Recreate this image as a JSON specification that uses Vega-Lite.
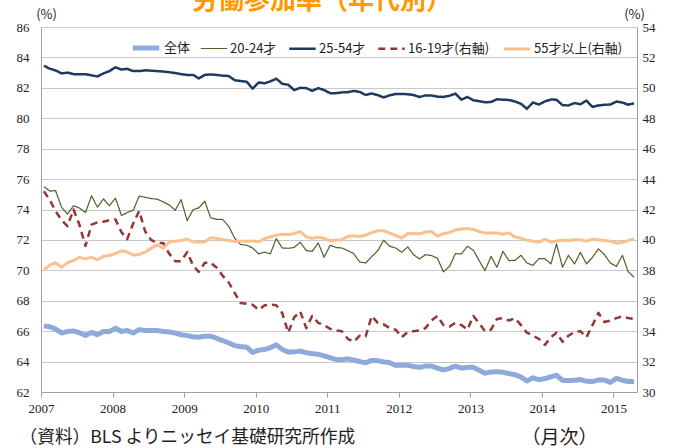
{
  "$schema": "https://vega.github.io/schema/vega-lite/v6.json",
  "width": 596,
  "height": 365,
  "autosize": {"type": "none"},
  "padding": {"left": 41, "top": 27, "right": 38, "bottom": 56},
  "background": "white",
  "title": {
    "text": "労働参加率（年代別）",
    "font": "Noto Sans CJK JP",
    "fontSize": 26,
    "fontWeight": "bold",
    "color": "#ff9900",
    "anchor": "middle",
    "baseline": "alphabetic",
    "offset": -27,
    "dx": -17
  },
  "data": {
    "values": [
      {"date": "2007-01-16", "全体": 66.35, "20-24才": 75.5, "25-54才": 83.45, "16-19才(右軸)": 43.2, "55才以上(右軸)": 38.05},
      {"date": "2007-02-16", "全体": 66.28, "20-24才": 75.2, "25-54才": 83.25, "16-19才(右軸)": 42.6, "55才以上(右軸)": 38.35},
      {"date": "2007-03-16", "全体": 66.15, "20-24才": 75.25, "25-54才": 83.15, "16-19才(右軸)": 41.9, "55才以上(右軸)": 38.5},
      {"date": "2007-04-16", "全体": 65.88, "20-24才": 74.15, "25-54才": 82.95, "16-19才(右軸)": 41.3, "55才以上(右軸)": 38.2},
      {"date": "2007-05-16", "全体": 65.98, "20-24才": 73.7, "25-54才": 83.0, "16-19才(右軸)": 40.9, "55才以上(右軸)": 38.5},
      {"date": "2007-06-16", "全体": 66.01, "20-24才": 74.25, "25-54才": 82.9, "16-19才(右軸)": 42.0, "55才以上(右軸)": 38.65},
      {"date": "2007-07-16", "全体": 65.9, "20-24才": 74.1, "25-54才": 82.9, "16-19才(右軸)": 41.0, "55才以上(右軸)": 38.86},
      {"date": "2007-08-16", "全体": 65.72, "20-24才": 73.8, "25-54才": 82.9, "16-19才(右軸)": 39.6, "55才以上(右軸)": 38.75},
      {"date": "2007-09-16", "全体": 65.92, "20-24才": 74.9, "25-54才": 82.82, "16-19才(右軸)": 41.0, "55才以上(右軸)": 38.86},
      {"date": "2007-10-16", "全体": 65.77, "20-24才": 74.15, "25-54才": 82.75, "16-19才(右軸)": 41.15, "55才以上(右軸)": 38.7},
      {"date": "2007-11-16", "全体": 65.98, "20-24才": 74.7, "25-54才": 82.95, "16-19才(右軸)": 41.2, "55才以上(右軸)": 38.92},
      {"date": "2007-12-16", "全体": 65.98, "20-24才": 74.25, "25-54才": 83.1, "16-19才(右軸)": 41.3, "55才以上(右軸)": 38.98},
      {"date": "2008-01-16", "全体": 66.2, "20-24才": 74.75, "25-54才": 83.35, "16-19才(右軸)": 41.35, "55才以上(右軸)": 39.1},
      {"date": "2008-02-16", "全体": 65.98, "20-24才": 73.6, "25-54才": 83.2, "16-19才(右軸)": 40.5, "55才以上(右軸)": 39.28},
      {"date": "2008-03-16", "全体": 66.04, "20-24才": 73.8, "25-54才": 83.25, "16-19才(右軸)": 40.05, "55才以上(右軸)": 39.2},
      {"date": "2008-04-16", "全体": 65.88, "20-24才": 73.95, "25-54才": 83.1, "16-19才(右軸)": 41.1, "55才以上(右軸)": 39.0},
      {"date": "2008-05-16", "全体": 66.1, "20-24才": 74.88, "25-54才": 83.1, "16-19才(右軸)": 41.9, "55才以上(右軸)": 39.05},
      {"date": "2008-06-16", "全体": 66.05, "20-24才": 74.8, "25-54才": 83.15, "16-19才(右軸)": 40.55, "55才以上(右軸)": 39.2},
      {"date": "2008-07-16", "全体": 66.04, "20-24才": 74.72, "25-54才": 83.13, "16-19才(右軸)": 40.0, "55才以上(右軸)": 39.45},
      {"date": "2008-08-16", "全体": 66.04, "20-24才": 74.68, "25-54才": 83.1, "16-19才(右軸)": 39.8, "55才以上(右軸)": 39.68},
      {"date": "2008-09-16", "全体": 65.98, "20-24才": 74.5, "25-54才": 83.07, "16-19才(右軸)": 39.8, "55才以上(右軸)": 39.46},
      {"date": "2008-10-16", "全体": 65.95, "20-24才": 74.3, "25-54才": 83.03, "16-19才(右軸)": 39.1, "55才以上(右軸)": 39.85},
      {"date": "2008-11-16", "全体": 65.88, "20-24才": 73.95, "25-54才": 82.97, "16-19才(右軸)": 38.6, "55才以上(右軸)": 39.92},
      {"date": "2008-12-16", "全体": 65.76, "20-24才": 74.65, "25-54才": 82.9, "16-19才(右軸)": 38.6, "55才以上(右軸)": 39.96},
      {"date": "2009-01-16", "全体": 65.71, "20-24才": 73.27, "25-54才": 82.85, "16-19才(右軸)": 39.2, "55才以上(右軸)": 40.05},
      {"date": "2009-02-16", "全体": 65.63, "20-24才": 74.0, "25-54才": 82.85, "16-19才(右軸)": 38.3, "55才以上(右軸)": 39.87},
      {"date": "2009-03-16", "全体": 65.6, "20-24才": 74.1, "25-54才": 82.62, "16-19才(右軸)": 37.9, "55才以上(右軸)": 39.85},
      {"date": "2009-04-16", "全体": 65.67, "20-24才": 74.55, "25-54才": 82.85, "16-19才(右軸)": 38.5, "55才以上(右軸)": 39.87},
      {"date": "2009-05-16", "全体": 65.67, "20-24才": 73.45, "25-54才": 82.88, "16-19才(右軸)": 38.5, "55才以上(右軸)": 40.15},
      {"date": "2009-06-16", "全体": 65.53, "20-24才": 73.35, "25-54才": 82.85, "16-19才(右軸)": 38.17, "55才以上(右軸)": 40.1},
      {"date": "2009-07-16", "全体": 65.38, "20-24才": 73.35, "25-54才": 82.8, "16-19才(右軸)": 37.65, "55才以上(右軸)": 40.02},
      {"date": "2009-08-16", "全体": 65.23, "20-24才": 72.9, "25-54才": 82.78, "16-19才(右軸)": 37.2, "55才以上(右軸)": 39.96},
      {"date": "2009-09-16", "全体": 65.05, "20-24才": 72.1, "25-54才": 82.5, "16-19才(右軸)": 36.5, "55才以上(右軸)": 39.9},
      {"date": "2009-10-16", "全体": 64.98, "20-24才": 71.7, "25-54才": 82.45, "16-19才(右軸)": 35.85, "55才以上(右軸)": 39.93},
      {"date": "2009-11-16", "全体": 64.95, "20-24才": 71.65, "25-54才": 82.4, "16-19才(右軸)": 35.8, "55才以上(右軸)": 39.9},
      {"date": "2009-12-16", "全体": 64.6, "20-24才": 71.47, "25-54才": 81.95, "16-19才(右軸)": 35.74, "55才以上(右軸)": 39.93},
      {"date": "2010-01-16", "全体": 64.75, "20-24才": 71.08, "25-54才": 82.35, "16-19才(右軸)": 35.4, "55才以上(右軸)": 39.88},
      {"date": "2010-02-16", "全体": 64.8, "20-24才": 71.2, "25-54才": 82.3, "16-19才(右軸)": 35.7, "55才以上(右軸)": 40.08},
      {"date": "2010-03-16", "全体": 64.91, "20-24才": 71.08, "25-54才": 82.42, "16-19才(右軸)": 35.75, "55才以上(右軸)": 40.2},
      {"date": "2010-04-16", "全体": 65.1, "20-24才": 72.09, "25-54才": 82.6, "16-19才(右軸)": 35.7, "55才以上(右軸)": 40.3},
      {"date": "2010-05-16", "全体": 64.8, "20-24才": 71.47, "25-54才": 82.27, "16-19才(右軸)": 35.2, "55才以上(右軸)": 40.38},
      {"date": "2010-06-16", "全体": 64.63, "20-24才": 71.45, "25-54才": 82.2, "16-19才(右軸)": 33.9, "55才以上(右軸)": 40.35},
      {"date": "2010-07-16", "全体": 64.64, "20-24才": 71.5, "25-54才": 81.85, "16-19才(右軸)": 34.9, "55才以上(右軸)": 40.42},
      {"date": "2010-08-16", "全体": 64.69, "20-24才": 71.85, "25-54才": 82.0, "16-19才(右軸)": 35.3, "55才以上(右軸)": 40.55},
      {"date": "2010-09-16", "全体": 64.58, "20-24才": 71.3, "25-54才": 81.98, "16-19才(右軸)": 34.2, "55才以上(右軸)": 40.2},
      {"date": "2010-10-16", "全体": 64.52, "20-24才": 71.25, "25-54才": 81.8, "16-19才(右軸)": 35.0, "55才以上(右軸)": 40.1},
      {"date": "2010-11-16", "全体": 64.48, "20-24才": 71.8, "25-54才": 81.98, "16-19才(右軸)": 34.55, "55才以上(右軸)": 40.18},
      {"date": "2010-12-16", "全体": 64.38, "20-24才": 70.86, "25-54才": 81.85, "16-19才(右軸)": 34.4, "55才以上(右軸)": 40.1},
      {"date": "2011-01-16", "全体": 64.25, "20-24才": 71.65, "25-54才": 81.65, "16-19才(右軸)": 34.15, "55才以上(右軸)": 39.95},
      {"date": "2011-02-16", "全体": 64.14, "20-24才": 71.5, "25-54才": 81.65, "16-19才(右軸)": 34.05, "55才以上(右軸)": 40.0},
      {"date": "2011-03-16", "全体": 64.12, "20-24才": 71.47, "25-54才": 81.7, "16-19才(右軸)": 34.0, "55才以上(右軸)": 40.0},
      {"date": "2011-04-16", "全体": 64.18, "20-24才": 71.3, "25-54才": 81.71, "16-19才(右軸)": 33.5, "55才以上(右軸)": 40.24},
      {"date": "2011-05-16", "全体": 64.1, "20-24才": 71.1, "25-54才": 81.8, "16-19才(右軸)": 33.3, "55才以上(右軸)": 40.26},
      {"date": "2011-06-16", "全体": 64.0, "20-24才": 70.55, "25-54才": 81.73, "16-19才(右軸)": 33.7, "55才以上(右軸)": 40.22},
      {"date": "2011-07-16", "全体": 63.92, "20-24才": 70.48, "25-54才": 81.53, "16-19才(右軸)": 33.65, "55才以上(右軸)": 40.32},
      {"date": "2011-08-16", "全体": 64.08, "20-24才": 70.9, "25-54才": 81.63, "16-19才(右軸)": 35.0, "55才以上(右軸)": 40.48},
      {"date": "2011-09-16", "全体": 64.06, "20-24才": 71.3, "25-54才": 81.52, "16-19才(右軸)": 34.55, "55才以上(右軸)": 40.6},
      {"date": "2011-10-16", "全体": 63.98, "20-24才": 71.98, "25-54才": 81.37, "16-19才(右軸)": 34.45, "55才以上(右軸)": 40.6},
      {"date": "2011-11-16", "全体": 63.93, "20-24才": 71.58, "25-54才": 81.51, "16-19才(右軸)": 34.2, "55才以上(右軸)": 40.45},
      {"date": "2011-12-16", "全体": 63.75, "20-24才": 71.47, "25-54才": 81.6, "16-19才(右軸)": 34.1, "55才以上(右軸)": 40.3},
      {"date": "2012-01-16", "全体": 63.76, "20-24才": 71.19, "25-54才": 81.6, "16-19才(右軸)": 33.6, "55才以上(右軸)": 40.12},
      {"date": "2012-02-16", "全体": 63.75, "20-24才": 71.54, "25-54才": 81.58, "16-19才(右軸)": 33.95, "55才以上(右軸)": 40.42},
      {"date": "2012-03-16", "全体": 63.68, "20-24才": 71.03, "25-54才": 81.53, "16-19才(右軸)": 34.0, "55才以上(右軸)": 40.42},
      {"date": "2012-04-16", "全体": 63.62, "20-24才": 70.75, "25-54才": 81.4, "16-19才(右軸)": 34.05, "55才以上(右軸)": 40.4},
      {"date": "2012-05-16", "全体": 63.71, "20-24才": 71.03, "25-54才": 81.5, "16-19才(右軸)": 34.2, "55才以上(右軸)": 40.52},
      {"date": "2012-06-16", "全体": 63.71, "20-24才": 70.97, "25-54才": 81.5, "16-19才(右軸)": 34.7, "55才以上(右軸)": 40.55},
      {"date": "2012-07-16", "全体": 63.57, "20-24才": 70.8, "25-54才": 81.42, "16-19才(右軸)": 35.0, "55才以上(右軸)": 40.25},
      {"date": "2012-08-16", "全体": 63.45, "20-24才": 69.9, "25-54才": 81.4, "16-19才(右軸)": 34.4, "55才以上(右軸)": 40.42},
      {"date": "2012-09-16", "全体": 63.55, "20-24才": 70.26, "25-54才": 81.48, "16-19才(右軸)": 34.3, "55才以上(右軸)": 40.48},
      {"date": "2012-10-16", "全体": 63.7, "20-24才": 71.1, "25-54才": 81.62, "16-19才(右軸)": 34.55, "55才以上(右軸)": 40.65},
      {"date": "2012-11-16", "全体": 63.57, "20-24才": 71.08, "25-54才": 81.22, "16-19才(右軸)": 34.4, "55才以上(右軸)": 40.72},
      {"date": "2012-12-16", "全体": 63.62, "20-24才": 71.58, "25-54才": 81.4, "16-19才(右軸)": 34.1, "55才以上(右軸)": 40.75},
      {"date": "2013-01-16", "全体": 63.62, "20-24才": 71.32, "25-54才": 81.18, "16-19才(右軸)": 35.0, "55才以上(右軸)": 40.68},
      {"date": "2013-02-16", "全体": 63.42, "20-24才": 70.6, "25-54才": 81.12, "16-19才(右軸)": 34.5, "55才以上(右軸)": 40.55},
      {"date": "2013-03-16", "全体": 63.24, "20-24才": 69.98, "25-54才": 81.05, "16-19才(右軸)": 34.0, "55才以上(右軸)": 40.45},
      {"date": "2013-04-16", "全体": 63.31, "20-24才": 70.92, "25-54才": 81.07, "16-19才(右軸)": 34.1, "55才以上(右軸)": 40.45},
      {"date": "2013-05-16", "全体": 63.34, "20-24才": 70.2, "25-54才": 81.25, "16-19才(右軸)": 34.8, "55才以上(右軸)": 40.46},
      {"date": "2013-06-16", "全体": 63.3, "20-24才": 71.25, "25-54才": 81.22, "16-19才(右軸)": 34.86, "55才以上(右軸)": 40.37},
      {"date": "2013-07-16", "全体": 63.21, "20-24才": 70.64, "25-54才": 81.2, "16-19才(右軸)": 34.7, "55才以上(右軸)": 40.46},
      {"date": "2013-08-16", "全体": 63.14, "20-24才": 70.66, "25-54才": 81.1, "16-19才(右軸)": 34.85, "55才以上(右軸)": 40.2},
      {"date": "2013-09-16", "全体": 62.98, "20-24才": 70.99, "25-54才": 80.95, "16-19才(右軸)": 34.4, "55才以上(右軸)": 40.1},
      {"date": "2013-10-16", "全体": 62.73, "20-24才": 70.48, "25-54才": 80.62, "16-19才(右軸)": 33.9, "55才以上(右軸)": 39.98},
      {"date": "2013-11-16", "全体": 62.93, "20-24才": 70.33, "25-54才": 81.04, "16-19才(右軸)": 33.7, "55才以上(右軸)": 39.92},
      {"date": "2013-12-16", "全体": 62.81, "20-24才": 70.77, "25-54才": 80.9, "16-19才(右軸)": 33.5, "55才以上(右軸)": 39.85},
      {"date": "2014-01-16", "全体": 62.88, "20-24才": 70.77, "25-54才": 81.11, "16-19才(右軸)": 33.1, "55才以上(右軸)": 40.05},
      {"date": "2014-02-16", "全体": 63.0, "20-24才": 70.42, "25-54才": 81.23, "16-19才(右軸)": 33.6, "55才以上(右軸)": 39.85},
      {"date": "2014-03-16", "全体": 63.1, "20-24才": 71.74, "25-54才": 81.22, "16-19才(右軸)": 33.9, "55才以上(右軸)": 39.93},
      {"date": "2014-04-16", "全体": 62.77, "20-24才": 70.2, "25-54才": 80.86, "16-19才(右軸)": 33.3, "55才以上(右軸)": 39.98},
      {"date": "2014-05-16", "全体": 62.75, "20-24才": 70.99, "25-54才": 80.84, "16-19才(右軸)": 33.7, "55才以上(右軸)": 39.95},
      {"date": "2014-06-16", "全体": 62.77, "20-24才": 70.42, "25-54才": 81.0, "16-19才(右軸)": 33.95, "55才以上(右軸)": 40.02},
      {"date": "2014-07-16", "全体": 62.82, "20-24才": 71.19, "25-54才": 80.92, "16-19才(右軸)": 34.0, "55才以上(右軸)": 40.0},
      {"date": "2014-08-16", "全体": 62.71, "20-24才": 70.42, "25-54才": 81.16, "16-19才(右軸)": 33.6, "55才以上(右軸)": 39.92},
      {"date": "2014-09-16", "全体": 62.69, "20-24才": 70.86, "25-54才": 80.74, "16-19才(右軸)": 34.4, "55才以上(右軸)": 40.05},
      {"date": "2014-10-16", "全体": 62.79, "20-24才": 71.41, "25-54才": 80.84, "16-19才(右軸)": 35.2, "55才以上(右軸)": 40.0},
      {"date": "2014-11-16", "全体": 62.79, "20-24才": 71.03, "25-54才": 80.89, "16-19才(右軸)": 34.6, "55才以上(右軸)": 39.95},
      {"date": "2014-12-16", "全体": 62.63, "20-24才": 70.48, "25-54才": 80.9, "16-19才(右軸)": 34.7, "55才以上(右軸)": 39.92},
      {"date": "2015-01-16", "全体": 62.9, "20-24才": 70.26, "25-54才": 81.1, "16-19才(右軸)": 34.86, "55才以上(右軸)": 39.78},
      {"date": "2015-02-16", "全体": 62.77, "20-24才": 70.99, "25-54才": 81.03, "16-19才(右軸)": 34.97, "55才以上(右軸)": 39.85},
      {"date": "2015-03-16", "全体": 62.69, "20-24才": 69.93, "25-54才": 80.89, "16-19才(右軸)": 34.86, "55才以上(右軸)": 39.95},
      {"date": "2015-04-16", "全体": 62.68, "20-24才": 69.54, "25-54才": 80.98, "16-19才(右軸)": 34.8, "55才以上(右軸)": 40.08}
    ]
  },
  "layer": [
    {
      "transform": [{"fold": ["全体", "20-24才", "25-54才"], "as": ["series", "value"]}],
      "mark": {"type": "line", "strokeCap": "butt", "strokeJoin": "round"},
      "encoding": {
        "x": {
          "field": "date", "type": "temporal",
          "scale": {"type": "utc", "domain": [{"year": 2007, "month": 1, "date": 1, "utc": true}, {"year": 2015, "month": 5, "date": 1, "utc": true}]},
          "axis": {
            "orient": "bottom",
            "values": [{"year": 2007, "month": 1, "date": 1, "utc": true}, {"year": 2008, "month": 1, "date": 1, "utc": true}, {"year": 2009, "month": 1, "date": 1, "utc": true}, {"year": 2010, "month": 1, "date": 1, "utc": true}, {"year": 2011, "month": 1, "date": 1, "utc": true}, {"year": 2012, "month": 1, "date": 1, "utc": true}, {"year": 2013, "month": 1, "date": 1, "utc": true}, {"year": 2014, "month": 1, "date": 1, "utc": true}, {"year": 2015, "month": 1, "date": 1, "utc": true}],
            "format": "%Y", "formatType": "utc",
            "grid": false, "tickSize": 5, "labelPadding": 5, "labelFlush": false,
            "title": "（資料）BLS よりニッセイ基礎研究所作成",
            "titleX": -22, "titleY": 45, "titleAlign": "left", "titleBaseline": "middle",
            "titleFontSize": 17.7, "titleFont": "Noto Sans CJK JP"
          }
        },
        "y": {
          "field": "value", "type": "quantitative",
          "scale": {"domain": [62, 86], "nice": false, "zero": false},
          "axis": {
            "orient": "left",
            "values": [62, 64, 66, 68, 70, 72, 74, 76, 78, 80, 82, 84, 86],
            "grid": true, "ticks": false, "labelPadding": 12,
            "title": "(%)", "titleAngle": 0, "titleX": 5, "titleY": -13,
            "titleAlign": "center", "titleBaseline": "middle", "titleFontSize": 13
          }
        },
        "color": {
          "field": "series", "type": "nominal",
          "scale": {"domain": ["全体", "20-24才", "25-54才", "16-19才(右軸)", "55才以上(右軸)"], "range": ["#8eaadb", "#4f6228", "#1f3a60", "#953735", "#fac08f"]},
          "legend": {"title": null}
        },
        "strokeDash": {
          "field": "series", "type": "nominal",
          "scale": {"domain": ["全体", "20-24才", "25-54才", "16-19才(右軸)", "55才以上(右軸)"], "range": [[1, 0], [1, 0], [1, 0], [7, 5], [1, 0]]},
          "legend": {"title": null}
        },
        "strokeWidth": {
          "field": "series", "type": "nominal",
          "scale": {"type": "ordinal", "domain": ["全体", "20-24才", "25-54才", "16-19才(右軸)", "55才以上(右軸)"], "range": [5, 1.2, 2.5, 2.5, 3]},
          "legend": {"title": null}
        }
      }
    },
    {
      "transform": [{"fold": ["16-19才(右軸)", "55才以上(右軸)"], "as": ["series", "value"]}],
      "mark": {"type": "line", "strokeCap": "butt", "strokeJoin": "round"},
      "encoding": {
        "x": {
          "field": "date", "type": "temporal",
          "axis": {
            "orient": "top", "labels": false, "ticks": false, "domain": false, "grid": false,
            "title": "（月次）", "titleX": 480, "titleY": 410, "titleAlign": "left", "titleBaseline": "middle",
            "titleFontSize": 19, "titleFont": "Noto Sans CJK JP"
          }
        },
        "y": {
          "field": "value", "type": "quantitative",
          "scale": {"domain": [30, 54], "nice": false, "zero": false},
          "axis": {
            "orient": "right",
            "values": [30, 32, 34, 36, 38, 40, 42, 44, 46, 48, 50, 52, 54],
            "grid": false, "ticks": false, "labelPadding": 5,
            "title": "(%)", "titleAngle": 0, "titleX": -3, "titleY": -13,
            "titleAlign": "center", "titleBaseline": "middle", "titleFontSize": 13
          }
        },
        "color": {
          "field": "series", "type": "nominal",
          "scale": {"domain": ["全体", "20-24才", "25-54才", "16-19才(右軸)", "55才以上(右軸)"], "range": ["#8eaadb", "#4f6228", "#1f3a60", "#953735", "#fac08f"]},
          "legend": {"title": null}
        },
        "strokeDash": {
          "field": "series", "type": "nominal",
          "scale": {"domain": ["全体", "20-24才", "25-54才", "16-19才(右軸)", "55才以上(右軸)"], "range": [[1, 0], [1, 0], [1, 0], [7, 5], [1, 0]]},
          "legend": {"title": null}
        },
        "strokeWidth": {
          "field": "series", "type": "nominal",
          "scale": {"type": "ordinal", "domain": ["全体", "20-24才", "25-54才", "16-19才(右軸)", "55才以上(右軸)"], "range": [5, 1.2, 2.5, 2.5, 3]},
          "legend": {"title": null}
        }
      }
    }
  ],
  "resolve": {"scale": {"y": "independent"}, "axis": {"x": "independent"}},
  "config": {
    "font": "Liberation Sans Narrow, Noto Sans CJK JP",
    "view": {"stroke": null},
    "axis": {
      "labelColor": "#222", "labelFontSize": 13, "labelFont": "Liberation Sans Narrow",
      "domainColor": "#a0a0a0", "tickColor": "#a0a0a0", "gridColor": "#c8c8c8",
      "titleColor": "#222", "titleFontWeight": "normal", "titleFont": "Liberation Sans Narrow, Noto Sans CJK JP"
    },
    "legend": {
      "orient": "none", "legendX": 89, "legendY": 5, "direction": "horizontal",
      "symbolType": "stroke", "symbolSize": 700,
      "labelFontSize": 13, "labelFont": "Liberation Sans Narrow, Noto Sans CJK JP", "labelColor": "#222",
      "columnPadding": 7, "labelOffset": 2
    }
  }
}
